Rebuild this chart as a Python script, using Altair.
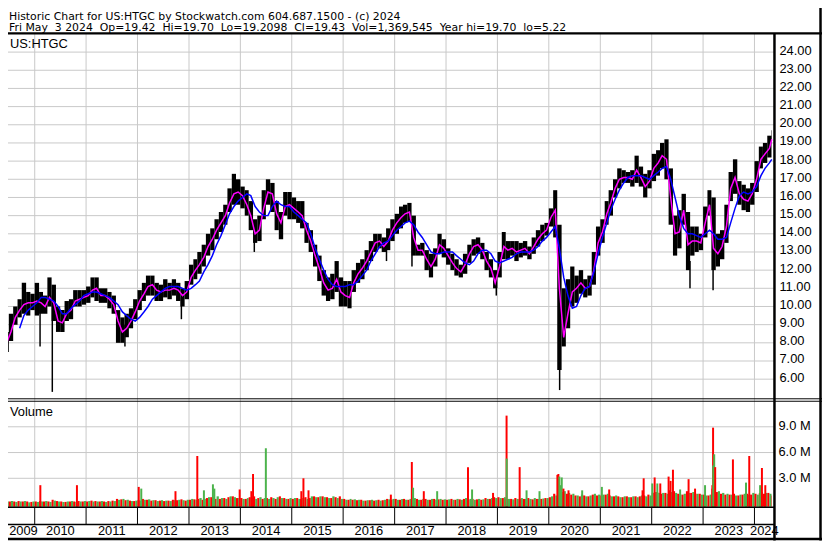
import altair as alt
import pandas as pd

TITLE1 = "Historic Chart for US:HTGC by Stockwatch.com 604.687.1500 - (c) 2024"
TITLE2 = "Fri May  3 2024  Op=19.42  Hi=19.70  Lo=19.2098  Cl=19.43  Vol=1,369,545  Year hi=19.70  lo=5.22"
SYMBOL = "US:HTGC"
VOL_TITLE = "Volume"

FIRST_MONTH = "2009-05-01"
LAST_DAY = "2024-05-03"

# monthly price range (high / low), May 2009 .. May 2024
HI = [8.3, 8.6, 9.6, 10.0, 10.4, 11.3, 10.8, 10.7,
      11.3, 10.8, 10.6, 11.6, 11.2, 10.0, 9.8, 10.3, 10.4, 10.9, 10.9, 10.9,
      11.1, 11.6, 11.6, 11.0, 11.0, 10.8, 10.6, 9.8, 9.4, 9.6, 9.9, 10.4,
      10.9, 11.3, 11.7, 11.7, 11.3, 11.2, 11.5, 11.3, 11.5, 11.3, 11.0, 11.4,
      12.3, 12.6, 13.0, 13.4, 14.0, 14.3, 14.8, 15.2, 15.6, 16.5, 17.3, 17.0,
      16.6, 16.4, 15.8, 14.8, 15.0, 16.4, 17.0, 16.8, 15.8, 15.2, 16.3, 16.3,
      16.0, 15.8, 15.8, 14.6, 14.2, 13.4, 12.8, 12.0, 11.6, 11.8, 12.5, 11.6,
      11.4, 11.4, 12.0, 12.4, 12.6, 13.1, 13.6, 14.0, 14.0, 13.8, 14.3, 14.8,
      15.1, 15.5, 15.6, 15.7, 15.0, 13.4, 13.5, 13.1, 12.9, 13.2, 14.0, 13.7,
      13.2, 12.9, 12.6, 12.3, 12.9, 13.4, 13.7, 13.8, 13.5, 13.0, 12.6, 12.0,
      13.0, 14.1, 13.6, 13.6, 13.6, 13.5, 13.6, 13.3, 13.8, 14.2, 14.5, 14.6,
      15.4, 16.4, 14.5, 11.0, 11.5, 12.2, 11.7, 12.0, 11.5, 11.7, 13.0, 14.4,
      14.8, 15.8, 16.4, 17.0, 17.6, 17.5, 17.4, 17.5, 18.3, 17.7, 17.3, 17.5,
      18.4, 18.6, 19.0, 19.2, 17.6, 15.0, 15.3, 16.2, 15.2, 14.4, 14.4, 14.0,
      15.5, 16.4, 16.0, 14.0, 14.2, 15.6, 17.4, 18.1, 16.9, 16.7, 16.5, 16.8,
      18.0, 18.8, 19.0, 19.4, 19.7]
LO = [6.8, 7.5, 8.1, 9.0, 9.4, 9.6, 9.5, 9.8,
      9.5, 9.6, 9.6, 10.0, 9.2, 8.6, 8.6, 9.2, 9.3, 10.0, 10.0, 10.1,
      10.2, 10.5, 10.3, 10.2, 10.2, 9.9, 9.6, 8.0, 8.0, 8.3, 8.8, 9.3,
      9.8, 10.3, 10.6, 10.6, 10.3, 10.3, 10.5, 10.4, 10.6, 10.3, 10.0, 10.4,
      11.2, 11.5, 11.8, 12.2, 12.8, 13.1, 13.7, 14.1, 14.5, 15.2, 15.6, 15.6,
      15.4, 15.0, 14.2, 13.5, 13.6, 14.8, 15.6, 15.2, 14.2, 13.7, 15.0, 14.8,
      14.8, 14.6, 14.3, 13.5, 13.0, 12.2, 11.4, 10.6, 10.3, 10.4, 10.8, 10.0,
      10.0, 9.9, 10.8, 11.3, 11.5, 12.0, 12.5, 13.0, 13.2, 13.0, 13.1, 13.6,
      14.0, 14.3, 14.6, 14.7, 12.8, 12.8, 12.8, 12.0, 11.6, 12.2, 12.9, 12.7,
      12.3, 12.0, 11.7, 11.6, 11.8, 12.4, 12.8, 12.9, 12.6, 12.0, 11.6, 11.0,
      11.6, 12.6, 12.6, 12.8, 12.5, 12.7, 12.8, 12.6, 12.9, 13.3, 13.6, 13.9,
      14.4, 13.8, 6.5, 7.8, 8.8, 10.0, 10.2, 10.7, 10.5, 10.6, 11.2, 12.8,
      13.5, 14.5, 15.0, 16.0, 16.5, 16.8, 16.8, 16.6, 16.8, 16.6, 16.0, 16.5,
      16.9, 17.2, 17.6, 17.0, 14.5, 12.8, 13.2, 14.5, 12.0, 12.8, 13.0, 13.1,
      13.8, 15.0, 12.0, 12.2, 12.6, 13.5, 15.8, 16.2, 15.6, 15.3, 15.2, 15.6,
      16.3, 17.6, 17.9, 18.2, 19.2]
# single-day spikes: date, low, high
WICK_DATES = ["2010-02-08", "2010-05-06", "2011-10-04", "2012-11-08", "2014-04-10",
              "2016-11-04", "2017-05-04", "2018-12-24", "2020-03-18", "2022-09-30", "2023-03-13"]
WICK_LO = [7.8, 5.3, 7.8, 9.3, 13.0, 12.5, 12.2, 10.6, 5.4, 11.0, 10.9]
WICK_HI = [10.4, 10.6, 9.0, 10.5, 14.0, 13.5, 14.8, 11.6, 7.5, 12.5, 12.5]

# moving averages, mid-month values
MA_FAST = [7.4, 8.0, 8.6, 9.4, 9.8, 10.1, 10.2, 10.2,
           10.3, 10.2, 10.0, 10.5, 10.2, 9.2, 9.1, 9.6, 9.8, 10.3, 10.4, 10.5,
           10.6, 10.9, 11.0, 10.6, 10.6, 10.4, 10.1, 9.2, 8.6, 8.8, 9.2, 9.7,
           10.3, 10.7, 11.1, 11.2, 10.9, 10.8, 10.9, 10.9, 11.0, 10.9, 10.6, 10.8,
           11.6, 12.0, 12.3, 12.7, 13.3, 13.7, 14.2, 14.6, 15.0, 15.7, 16.2, 16.3,
           16.1, 15.6, 15.0, 14.0, 14.2, 15.4, 16.3, 16.2, 15.1, 14.6, 15.5, 15.6,
           15.4, 15.2, 15.0, 14.2, 13.6, 12.8, 12.1, 11.3, 10.9, 11.0, 11.5, 10.8,
           10.6, 10.5, 11.3, 11.8, 12.1, 12.5, 13.0, 13.5, 13.6, 13.3, 13.6, 14.2,
           14.6, 14.9, 15.1, 15.2, 13.8, 13.1, 13.1, 12.6, 12.2, 12.6, 13.4, 13.2,
           12.8, 12.4, 12.1, 11.9, 12.3, 12.9, 13.3, 13.4, 13.1, 12.5, 12.1, 11.3,
           12.2, 13.3, 13.1, 13.2, 13.0, 13.1, 13.2, 12.9, 13.3, 13.7, 14.0, 14.2,
           14.9, 15.3, 11.0, 8.3, 9.6, 10.8, 11.0, 11.3, 11.0, 11.1, 12.0, 13.5,
           14.1, 15.1, 15.7, 16.5, 17.0, 17.1, 17.1, 17.0, 17.5, 17.1, 16.6, 16.9,
           17.6, 17.9, 18.3, 18.1, 16.0, 14.0, 14.1, 15.3, 13.4, 13.6, 13.6, 13.5,
           14.6, 15.6, 13.2, 12.9, 13.3, 14.4, 16.5, 17.1, 16.2, 15.9, 15.8, 16.2,
           17.0, 18.1, 18.4, 18.7, 19.2]
MA_SLOW = [None, None, None, None, 8.8, 9.5, 9.8, 10.0,
           10.2, 10.5, 10.5, 10.4, 10.3, 10.0, 9.6, 9.6, 9.9, 10.1, 10.3, 10.6,
           10.7, 10.8, 10.8, 10.7, 10.6, 10.5, 10.3, 10.1, 9.7, 9.5, 9.3, 9.2,
           9.4, 9.7, 10.0, 10.4, 10.6, 10.8, 11.0, 11.1, 11.1, 11.1, 11.0, 10.9,
           11.0, 11.2, 11.4, 11.9, 12.3, 12.8, 13.4, 13.9, 14.5, 15.1, 15.5, 15.8,
           16.0, 16.2, 16.1, 15.5, 15.2, 15.0, 15.0, 15.5, 15.8, 15.6, 15.5, 15.5,
           15.2, 15.0, 14.8, 14.6, 14.0, 13.2, 12.6, 12.0, 11.5, 11.2, 11.1, 11.1,
           11.1, 11.2, 11.2, 11.4, 11.7, 12.0, 12.5, 12.9, 13.3, 13.5, 13.6, 13.9,
           14.2, 14.4, 14.6, 14.7, 14.5, 14.1, 13.8, 13.4, 13.0, 12.9, 12.9, 13.0,
           13.0, 13.0, 12.8, 12.6, 12.4, 12.3, 12.5, 12.9, 13.1, 13.1, 12.9, 12.5,
           12.4, 12.5, 12.6, 12.7, 12.9, 13.0, 13.0, 13.0, 13.1, 13.3, 13.6, 13.8,
           14.1, 14.4, 13.2, 11.6, 10.6, 9.9, 10.0, 10.6, 11.0, 11.1, 11.9, 12.9,
           13.8, 14.6, 15.3, 15.9, 16.4, 16.8, 17.1, 17.2, 17.2, 17.2, 17.1, 17.0,
           17.2, 17.4, 17.6, 17.7, 17.0, 16.0, 15.0, 14.3, 14.0, 14.0, 13.9, 13.8,
           14.0, 14.2, 14.0, 13.7, 13.7, 13.8, 14.6, 15.4, 16.1, 16.3, 16.2, 16.3,
           16.6, 17.2, 17.6, 17.9, 18.1]

# typical monthly volume (millions) on down days / up days
VOL_DN = [0.6, 0.4, 0.3, 0.3, 0.35, 0.3, 0.3, 0.25,
          0.3, 0.35, 0.3, 0.3, 0.5, 0.35, 0.3, 0.25, 0.3, 0.3, 0.35, 0.3,
          0.3, 0.4, 0.35, 0.3, 0.3, 0.35, 0.4, 0.6, 0.55, 0.45, 0.4, 0.35,
          0.45, 0.6, 0.5, 0.4, 0.45, 0.4, 0.35, 0.4, 0.5, 0.45, 0.55, 0.4,
          0.5, 0.55, 0.6, 0.5, 0.7, 0.8, 0.6, 0.6, 0.7, 0.8, 0.9, 0.7,
          0.7, 0.6, 0.8, 0.9, 0.7, 0.6, 0.7, 0.8, 0.6, 0.9, 0.7, 0.6,
          0.6, 0.7, 0.6, 0.8, 0.7, 0.9, 0.8, 0.9, 0.8, 0.7, 0.8, 0.9,
          0.6, 0.5, 0.5, 0.45, 0.5, 0.4, 0.45, 0.4, 0.5, 0.45, 0.6, 0.5,
          0.6, 0.5, 0.6, 0.5, 0.8, 0.6, 0.5, 0.6, 0.5, 0.6, 0.55, 0.5,
          0.5, 0.6, 0.5, 0.55, 0.6, 0.5, 0.6, 0.55, 0.5, 0.7, 0.6, 0.8,
          0.8, 0.7, 0.6, 0.6, 0.7, 0.6, 0.6, 0.7, 0.55, 0.6, 0.6, 0.7,
          0.8, 1.2, 1.8, 1.4, 1.2, 1.1, 1.0, 0.9, 1.0, 0.9, 1.1, 1.0,
          1.0, 1.1, 1.0, 0.9, 0.9, 0.8, 0.9, 0.8, 0.9, 0.9, 1.0, 1.1,
          1.3, 1.4, 1.2, 1.3, 1.6, 1.5, 1.2, 1.1, 1.5, 1.3, 1.2, 1.2,
          1.1, 1.0, 1.8, 1.4, 1.2, 1.1, 1.1, 1.2, 1.0, 1.1, 1.2, 1.1,
          1.2, 1.3, 1.2, 1.3, 1.0]
VOL_UP = [0.5, 0.3, 0.35, 0.25, 0.3, 0.35, 0.2, 0.3,
          0.25, 0.3, 0.35, 0.25, 0.4, 0.3, 0.25, 0.3, 0.35, 0.25, 0.3, 0.35,
          0.35, 0.3, 0.3, 0.35, 0.25, 0.3, 0.35, 0.5, 0.6, 0.5, 0.35, 0.4,
          0.4, 0.5, 0.55, 0.45, 0.35, 0.45, 0.4, 0.35, 0.45, 0.5, 0.45, 0.5,
          0.6, 0.5, 0.7, 0.6, 0.8, 0.7, 0.9, 0.7, 0.6, 0.9, 0.8, 0.7,
          0.6, 0.7, 0.7, 0.6, 0.8, 0.7, 0.6, 0.7, 0.8, 0.7, 0.6, 0.7,
          0.7, 0.6, 0.7, 0.6, 0.9, 0.8, 0.9, 0.8, 0.7, 0.9, 0.7, 0.6,
          0.5, 0.6, 0.55, 0.5, 0.4, 0.45, 0.5, 0.45, 0.4, 0.5, 0.55, 0.6,
          0.5, 0.6, 0.5, 0.6, 0.7, 0.5, 0.6, 0.5, 0.6, 0.5, 0.6, 0.55,
          0.55, 0.5, 0.6, 0.5, 0.7, 0.6, 0.5, 0.6, 0.55, 0.6, 0.7, 0.7,
          0.7, 0.8, 0.6, 0.55, 0.6, 0.7, 0.6, 0.6, 0.7, 0.6, 0.65, 0.7,
          0.9, 1.0, 1.6, 1.5, 1.3, 1.2, 1.0, 1.1, 0.9, 1.0, 1.2, 1.1,
          1.1, 1.2, 0.9, 1.0, 0.8, 0.9, 0.8, 0.9, 0.8, 1.0, 0.9, 1.0,
          1.4, 1.3, 1.3, 1.2, 1.4, 1.3, 1.1, 1.2, 1.3, 1.4, 1.2, 1.1,
          1.0, 1.1, 1.6, 1.5, 1.3, 1.2, 1.1, 1.0, 1.1, 1.2, 1.1, 1.3,
          1.1, 1.4, 1.3, 1.2, 1.0]
# high-volume days: date, volume (M), direction
SPIKE_DATES = ["2009-05-20", "2010-02-10", "2010-10-28", "2012-01-10", "2012-01-28", "2012-09-27",
               "2013-03-01", "2013-04-17", "2013-06-20", "2013-06-30", "2013-12-27",
               "2014-03-20", "2014-04-01", "2014-07-01",
               "2015-03-10", "2015-03-25", "2015-04-30", "2016-12-05",
               "2017-05-03", "2017-05-12", "2017-07-27", "2017-10-30",
               "2018-06-06", "2018-07-05", "2018-12-01",
               "2019-03-07", "2019-03-08", "2019-06-08", "2019-07-27", "2019-10-27",
               "2020-03-02", "2020-03-09", "2020-03-16", "2020-03-24", "2020-04-02", "2020-04-14",
               "2020-05-20", "2020-08-25",
               "2021-01-12", "2021-03-05", "2021-10-28", "2021-11-05",
               "2022-01-05", "2022-01-22", "2022-02-10", "2022-03-03", "2022-05-01", "2022-05-15",
               "2022-06-01", "2022-07-22", "2022-09-20", "2022-11-05",
               "2023-01-15", "2023-03-08", "2023-03-13", "2023-03-14", "2023-03-21", "2023-03-28",
               "2023-08-01", "2023-11-02", "2023-11-25",
               "2024-02-10", "2024-02-23", "2024-03-18"]
SPIKE_VOL = [0.8, 2.2, 2.2, 2.0, 1.8, 1.5,
             5.6, 1.6, 2.3, 1.8, 1.7,
             1.5, 3.5, 6.5,
             1.5, 3.0, 1.6, 1.1,
             4.9, 1.9, 1.5, 1.5,
             4.3, 1.7, 1.3,
             10.3, 5.3, 4.3, 1.6, 1.5,
             3.4, 3.5, 3.2, 2.2, 3.1, 1.8,
             1.6, 1.6,
             2.0, 1.7, 1.6, 3.0,
             2.4, 3.1, 2.4, 2.4, 3.2, 2.7,
             4.0, 1.7, 2.9, 1.8,
             2.2, 2.2, 8.9, 4.5, 5.8, 4.3,
             5.2, 2.5, 5.6,
             2.2, 4.2, 2.2]
SPIKE_DIR = ["dn", "dn", "dn", "dn", "up", "dn",
             "dn", "up", "up", "up", "dn",
             "dn", "dn", "up",
             "dn", "dn", "dn", "dn",
             "dn", "up", "dn", "up",
             "dn", "up", "dn",
             "dn", "up", "dn", "up", "up",
             "dn", "dn", "up", "up", "up", "dn",
             "dn", "up",
             "up", "dn", "dn", "dn",
             "up", "dn", "up", "dn", "dn", "dn",
             "dn", "up", "dn", "dn",
             "up", "dn", "dn", "up", "up", "dn",
             "dn", "up", "dn",
             "up", "dn", "dn"]

PRICE_TICKS = [6, 7, 8, 9, 10, 11, 12, 13, 14, 15, 16, 17, 18, 19, 20, 21, 22, 23, 24]
VOL_TICKS = [3, 6, 9]
YEARS = list(range(2009, 2025))

FONT = "Arial"
HEAD_FONT = "DejaVu Sans"
RED = "#ff0000"
GREEN = "#4cb34c"
GRID = "#c8c8c8"

# ---------------------------------------------------------------- tables
months = pd.date_range(FIRST_MONTH, periods=len(HI), freq="MS")
last = pd.Timestamp(LAST_DAY)
ends = list(months[1:]) + [last + pd.Timedelta(days=1)]
mids = [m + pd.Timedelta(days=15) for m in months[:-1]] + [last]

price_df = pd.DataFrame({"date": months, "end": ends, "hi": HI, "lo": LO})
wick_df = pd.DataFrame({"date": pd.to_datetime(WICK_DATES), "lo": WICK_LO, "hi": WICK_HI})
ma_df = pd.DataFrame({"date": mids, "fast": MA_FAST, "slow": MA_SLOW})

FLOOR = -0.31
vrows = []
for m, e, dn, up in zip(months, ends, VOL_DN, VOL_UP):
    half = min(m + pd.Timedelta(days=15), e)
    vrows.append({"date": m, "end": half, "v": dn, "b": FLOOR, "dir": "dn"})
    vrows.append({"date": half, "end": e, "v": up, "b": FLOOR, "dir": "up"})
vol_df = pd.DataFrame(vrows)
spike_df = pd.DataFrame({"date": pd.to_datetime(SPIKE_DATES), "v": SPIKE_VOL,
                         "b": FLOOR, "dir": SPIKE_DIR})

D0 = pd.Timestamp("2009-04-30")
D1 = pd.Timestamp("2024-05-20")
MIN_LABEL_DATE = pd.Timestamp("2009-10-13")   # first year label kept clear of the page edge
year_starts = [pd.Timestamp(f"{y}-01-01") for y in YEARS[1:]]
label_pos = []
for y in YEARS:
    a = max(pd.Timestamp(f"{y}-01-01"), D0)
    b = min(pd.Timestamp(f"{y + 1}-01-01"), D1)
    label_pos.append(max(a + (b - a) / 2, MIN_LABEL_DATE))
year_df = pd.DataFrame({"date": label_pos, "label": [str(y) for y in YEARS]})
grid_x_df = pd.DataFrame({"date": year_starts})
ptick_df = pd.DataFrame({"p": PRICE_TICKS, "label": [f"{p:.2f}" for p in PRICE_TICKS]})
vtick_df = pd.DataFrame({"v": VOL_TICKS, "label": [f"{v:.1f} M" for v in VOL_TICKS]})
one = pd.DataFrame({"k": [0]})

# ---------------------------------------------------------------- scales
XS = alt.Scale(domain=[alt.DateTime(year=2009, month=4, date=30),
                       alt.DateTime(year=2024, month=5, date=20)], range=[0, 781.7])
PS = alt.Scale(domain=[4.92, 25.03], range=[400, 31], zero=False, nice=False)
VS = alt.Scale(domain=[FLOOR, 12.03], range=[509, 402], zero=False, nice=False)
DIRC = alt.Scale(domain=["dn", "up"], range=[RED, GREEN])


def X(field="date"):
    return alt.X(f"{field}:T", scale=XS, axis=None)


def nb(s):
    return s.replace("  ", " \u00a0")


def hline(y, x1, x2, w=1, color="black"):
    return alt.Chart(one).mark_rule(color=color, strokeWidth=w).encode(
        x=alt.value(x1), x2=alt.value(x2), y=alt.value(y))


def vline(x, y1, y2, w=1, color="black"):
    return alt.Chart(one).mark_rule(color=color, strokeWidth=w).encode(
        x=alt.value(x), y=alt.value(y1), y2=alt.value(y2))


def label(text, x, y, size=13, align="left", baseline="alphabetic", font=FONT):
    return alt.Chart(one).mark_text(text=text, font=font, fontSize=size, align=align,
                                    baseline=baseline, color="black").encode(
        x=alt.value(x), y=alt.value(y))


layers = []
# gridlines
layers.append(alt.Chart(ptick_df).mark_rule(color=GRID, strokeWidth=1).encode(
    y=alt.Y("p:Q", scale=PS, axis=None), x=alt.value(0), x2=alt.value(782)))
layers.append(alt.Chart(vtick_df).mark_rule(color=GRID, strokeWidth=1).encode(
    y=alt.Y("v:Q", scale=VS, axis=None), x=alt.value(0), x2=alt.value(782)))
layers.append(alt.Chart(grid_x_df).mark_rule(color=GRID, strokeWidth=1).encode(
    x=X(), y=alt.value(31), y2=alt.value(509)))
layers.append(alt.Chart(grid_x_df).mark_rule(color="black", strokeWidth=1).encode(
    x=X(), y=alt.value(509), y2=alt.value(527)))

# price bars
layers.append(alt.Chart(price_df).mark_rect(color="black").encode(
    x=X(), x2="end:T", y=alt.Y("lo:Q", scale=PS, axis=None), y2="hi:Q"))
layers.append(alt.Chart(wick_df).mark_rule(color="black", strokeWidth=1.5).encode(
    x=X(), y=alt.Y("lo:Q", scale=PS, axis=None), y2="hi:Q"))
layers.append(alt.Chart(ma_df).mark_line(color="#ff00ff", strokeWidth=1.5).encode(
    x=X(), y=alt.Y("fast:Q", scale=PS, axis=None)))
layers.append(alt.Chart(ma_df).mark_line(color="#0000ff", strokeWidth=1.5).encode(
    x=X(), y=alt.Y("slow:Q", scale=PS, axis=None)))

# volume
layers.append(alt.Chart(vol_df).mark_rect().encode(
    x=X(), x2="end:T", y=alt.Y("b:Q", scale=VS, axis=None), y2="v:Q",
    color=alt.Color("dir:N", scale=DIRC, legend=None)))
layers.append(alt.Chart(spike_df).mark_rule(strokeWidth=2).encode(
    x=X(), y=alt.Y("b:Q", scale=VS, axis=None), y2="v:Q",
    color=alt.Color("dir:N", scale=DIRC, legend=None)))

# axis labels
layers.append(alt.Chart(ptick_df).mark_text(font=FONT, fontSize=13, align="left",
                                            baseline="middle", dy=-1.5).encode(
    y=alt.Y("p:Q", scale=PS, axis=None), x=alt.value(787), text="label:N"))
layers.append(alt.Chart(vtick_df).mark_text(font=FONT, fontSize=13, align="left",
                                            baseline="middle", dy=-0.5).encode(
    y=alt.Y("v:Q", scale=VS, axis=None), x=alt.value(786), text="label:N"))
layers.append(alt.Chart(year_df).mark_text(font=FONT, fontSize=13, align="center",
                                           baseline="middle").encode(
    x=X(), y=alt.value(534), text="label:N"))

# header and panel titles (kept inside the visible page area)
layers.append(label(nb(TITLE1), 9, 17.5, size=11, font=HEAD_FONT))
layers.append(label(nb(TITLE2), 9, 29, size=11, font=HEAD_FONT))
layers.append(label(SYMBOL, 10, 42, baseline="middle"))
layers.append(label(VOL_TITLE, 10, 413, baseline="middle"))

# frame
layers += [
    hline(31, 0, 830, 2.5), hline(400, 0, 830, 1), hline(402.5, 0, 830, 1),
    hline(509.5, 0, 782, 1.5), hline(527, 0, 782, 1.5), hline(541.5, 0, 830, 2.5),
    vline(782, 31, 543, 2.5), vline(828.5, 0, 543, 2.5),
]

chart = alt.layer(*layers).resolve_scale(y="independent", color="shared").properties(
    width=830, height=543,
    autosize=alt.AutoSizeParams(type="none"),
    padding={"left": -8, "top": -8, "right": 0, "bottom": 0},
).configure_view(stroke=None)

chart.save("out.html", embed_options={"renderer": "svg", "actions": False})
